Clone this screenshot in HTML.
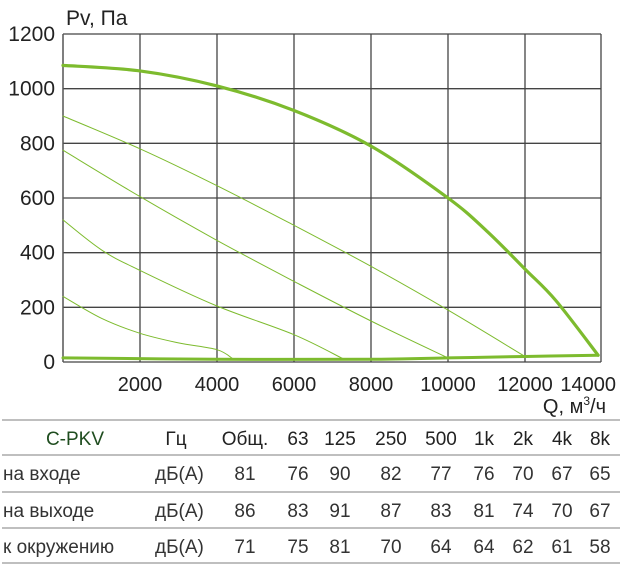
<!DOCTYPE html>
<html><head><meta charset="utf-8"><style>
body{margin:0;background:#fff;width:624px;height:570px;overflow:hidden;font-family:"Liberation Sans","DejaVu Sans",sans-serif;}
svg text{font-family:"Liberation Sans","DejaVu Sans",sans-serif;}
</style></head><body>
<svg id="chart" width="624" height="570" xmlns="http://www.w3.org/2000/svg">
<g id="grid"></g>
<g id="axes"></g>
<g id="curves"></g>
<g id="table"></g>
</svg>
<script>
const xTicks=[2000,4000,6000,8000,10000,12000,14000];
const yTicks=[0,200,400,600,800,1000,1200];
const fanQ=[0,2000,4000,6000,8000,10000,11000,12000,12800,13900];
const fanP=[1085,1065,1010,920,790,600,480,340,225,25];
const sysQ=[0,4000,8000,10000,12000,13900];
const sysP=[15,10,10,15,20,25];
const line1Q=[0,2000,4000,6000,8000,10000,12000];
const line1P=[900,780,645,500,350,190,20];
const line2Q=[0,2000,4000,6000,8000,10000];
const line2P=[775,605,445,295,150,15];
const line3Q=[0,1000,2000,4000,6000,7300];
const line3P=[520,410,335,205,100,10];
const line4Q=[0,1000,2000,3000,4000,4430];
const line4P=[240,160,105,70,45,10];
const tableHeader=["C-PKV","Гц","Общ.","63","125","250","500","1k","2k","4k","8k"];
const tableRows=[["на входе","дБ(А)","81","76","90","82","77","76","70","67","65"],
["на выходе","дБ(А)","86","83","91","87","83","81","74","70","67"],
["к окружению","дБ(А)","71","75","81","70","64","64","62","61","58"]];

const NS="http://www.w3.org/2000/svg";
const X0=63,X1=601,Y0=362,Y1=34;
const xg=v=>X0+v/2000*77;
const ys=v=>Y0-v/1200*(Y0-Y1);
function mk(tag,attrs,parent){const e=document.createElementNS(NS,tag);for(const k in attrs)e.setAttribute(k,attrs[k]);parent.appendChild(e);return e;}
const grid=document.getElementById('grid'),axes=document.getElementById('axes'),curves=document.getElementById('curves'),table=document.getElementById('table');
yTicks.forEach(t=>{
  const l=mk('line',{x1:X0,x2:X1,y1:ys(t),y2:ys(t),stroke:'#444','stroke-width':1.3},grid);
  
  
  const tx=mk('text',{x:55,y:ys(t)+7,'text-anchor':'end','font-size':21,fill:'#222'},axes);
  tx.textContent=t;
  
  
});
xTicks.forEach(t=>{
  const x=Math.min(xg(t),X1);
  const l=mk('line',{x1:x,x2:x,y1:Y1,y2:Y0,stroke:'#444','stroke-width':1.3},grid);
  
  
  const last=t===14000;
  const tx=mk('text',{x:last?616:x,y:391,'text-anchor':last?'end':'middle','font-size':20,fill:'#222'},axes);
  tx.textContent=t;
  
  
});
const ax=mk('line',{x1:X0,x2:X0,y1:Y1,y2:Y0,stroke:'#555','stroke-width':1.5},grid);


const yt=mk('text',{x:66,y:25,'font-size':21,fill:'#222'},axes);
yt.textContent='Pv, Па';


const xt=mk('text',{x:606,y:413,'text-anchor':'end','font-size':20,fill:'#222'},axes);
xt.innerHTML='Q, м<tspan font-size="12" dy="-8">3</tspan><tspan dy="8">/ч</tspan>';


function px(q){return X0+q/2000*77;}
function curve(Q,P,w,name){
  const pts=Q.map((q,i)=>[px(q),ys(P[i])]);
  let d='M'+pts[0][0].toFixed(1)+','+pts[0][1].toFixed(1);
  for(let i=0;i<pts.length-1;i++){
    const p0=pts[Math.max(i-1,0)],p1=pts[i],p2=pts[i+1],p3=pts[Math.min(i+2,pts.length-1)];
    const c1=[p1[0]+(p2[0]-p0[0])/6,p1[1]+(p2[1]-p0[1])/6];
    const c2=[p2[0]-(p3[0]-p1[0])/6,p2[1]-(p3[1]-p1[1])/6];
    d+='C'+c1.map(v=>v.toFixed(1)).join(',')+' '+c2.map(v=>v.toFixed(1)).join(',')+' '+p2.map(v=>v.toFixed(1)).join(',');
  }
  const p=mk('path',{d:d,fill:'none',stroke:'#7dbb2e','stroke-width':w,'stroke-linejoin':'round','stroke-linecap':'round'},curves);
  
  
}
curve(line1Q,line1P,1,'system-curve-1');
curve(line2Q,line2P,1,'system-curve-2');
curve(line3Q,line3P,1,'system-curve-3');
curve(line4Q,line4P,1,'system-curve-4');
curve(sysQ,sysP,3,'minimum-curve');
curve(fanQ,fanP,3.2,'fan-curve');
const lineYs=[420,455,492,528,563];
lineYs.forEach(y=>{const l=mk('line',{x1:2,x2:620,y1:y,y2:y,stroke:'#999','stroke-width':1.2},table);

});
const colX=[75,176,245,298,340,391,441,484,523,562,600];
const rowY=[445,480,517,553];
tableHeader.forEach((h,i)=>{
  const t=mk('text',{x:colX[i],y:rowY[0],'text-anchor':'middle','font-size':19,fill:i==0?'#1f4d1f':'#222'},table);
  t.textContent=h;
  
  
});
tableRows.forEach((r,ri)=>{
  r.forEach((c,i)=>{
    const a=i==0?{x:3,'text-anchor':'start'}:i==1?{x:155,'text-anchor':'start'}:{x:colX[i],'text-anchor':'middle'};
    const t=mk('text',Object.assign(a,{y:rowY[ri+1],'font-size':19,fill:'#333'}),table);
    t.textContent=c;
    
    
  });
});
</script>
</body></html>
